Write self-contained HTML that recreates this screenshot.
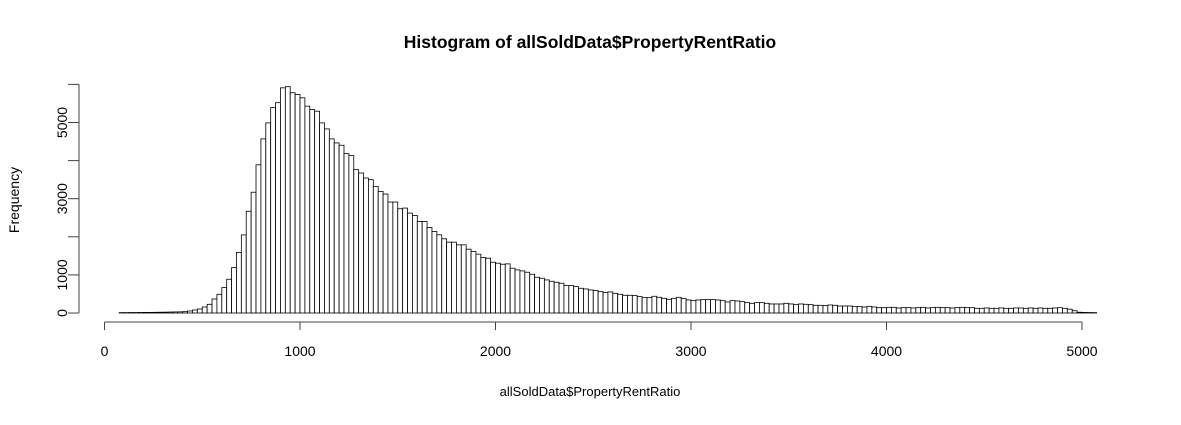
<!DOCTYPE html>
<html><head><meta charset="utf-8"><style>
body{margin:0;background:#fff}
svg text{font-family:"Liberation Sans",Arial,sans-serif;fill:#000}
</style></head><body>
<svg width="1181" height="420" viewBox="0 0 1181 420">
<rect width="1181" height="420" fill="#fff"/>
<text x="590" y="48" text-anchor="middle" font-size="17.5" font-weight="bold">Histogram of allSoldData$PropertyRentRatio</text>
<text x="590" y="396" text-anchor="middle" font-size="13">allSoldData$PropertyRentRatio</text>
<text transform="translate(19,200) rotate(-90)" text-anchor="middle" font-size="14">Frequency</text>
<g id="bars"></g>
<g id="axes"></g>
</svg>
<script>
const binStart = 75;
const binWidth = 25;
const counts = [
10,10,12,12,14,15,16,18,20,22,25,28,30,35,53,79,105,158,228,368,491,667,
886,1190,1590,2050,2670,3170,3890,4570,4990,5390,5520,5910,5940,5780,5735,5648,5429,5341,5297,4990,4832,4570,4464,4403,4183,4131,3762,3675,3543,3499,3324,3192,3122,2912,2912,2736,2754,2622,2561,2403,2403,2245,2140,2052,1947,1859,1859,1789,1789,1675,1614,1544,1456,1438,
1333,1307,1280,1289,1175,1131,1105,1070,1017,938,912,868,833,807,781,719,719,693,649,631,605,588,561,535,553,517,491,465,465,456,430,403,403,439,412,386,360,386,412,377,342,
324,342,351,351,351,342,324,289,324,315,298,272,254,272,272,254,237,237,237,254,237,219,237,228,219,202,202,193,210,202,184,184,184,167,167,158,175,158,140,140,149,149,132,
140,140,132,140,149,132,140,149,140,140,132,140,149,140,140,123,123,132,123,123,132,123,123,132,132,123,132,123,132,123,123,132,140,123,100,60,20,15,12,10];
const xTicks = [0,1000,2000,3000,4000,5000];
const yTicks = [0,1000,2000,3000,4000,5000,6000];
const yLabels = ["0","1000","","3000","","5000",""];
const NS="http://www.w3.org/2000/svg";
const xs = v => 104.5 + v*(1082-104.5)/5000;
const ys = v => 313 - v*(313-122.5)/5000;
const bars=document.getElementById('bars');
counts.forEach((c,i)=>{
  const x0=xs(binStart+i*binWidth), x1=xs(binStart+(i+1)*binWidth);
  const r=document.createElementNS(NS,'rect');
  r.setAttribute('x',x0);r.setAttribute('y',ys(c));
  r.setAttribute('width',x1-x0);r.setAttribute('height',313-ys(c));
  r.setAttribute('fill','#fff');r.setAttribute('stroke','#000');r.setAttribute('stroke-width','0.8');
  
  
  bars.appendChild(r);
});
const ax=document.getElementById('axes');
function line(x1,y1,x2,y2,name){const l=document.createElementNS(NS,'line');
 l.setAttribute('x1',x1);l.setAttribute('y1',y1);l.setAttribute('x2',x2);l.setAttribute('y2',y2);
 l.setAttribute('stroke','#444');l.setAttribute('stroke-width','1');
 
 
 ax.appendChild(l);}
function text(x,y,s,tr,name){const t=document.createElementNS(NS,'text');
 t.setAttribute('x',x);t.setAttribute('y',y);t.setAttribute('font-size','14');t.setAttribute('text-anchor','middle');
 if(tr)t.setAttribute('transform',tr);t.textContent=s;
 
 
 ax.appendChild(t);}
line(xs(0),322,xs(5000),322,'x-axis-line');
xTicks.forEach(v=>{line(xs(v),322,xs(v),330,'x-tick');text(xs(v),356,String(v),null,'x-tick-label');});
line(79,ys(0),79,ys(6000),'y-axis-line');
yTicks.forEach((v,i)=>{line(68,ys(v),79,ys(v),'y-tick');
 if(yLabels[i])text(62,ys(v)+5,yLabels[i],'rotate(-90 '+62+' '+ys(v)+')','y-tick-label');});
</script>
</body></html>
